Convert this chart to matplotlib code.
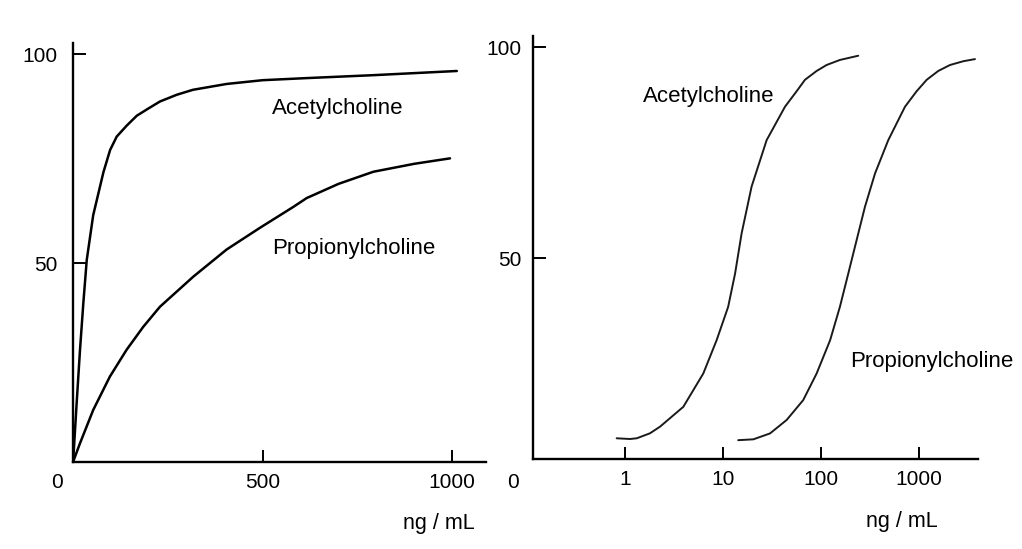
import matplotlib
matplotlib.use("Agg")
import matplotlib.pyplot as plt

plt.rcParams['font.family'] = ['Liberation Sans', 'DejaVu Sans']

# Left panel (linear concentration, ng/mL) - response values
lin_ach_x = [0, 9, 18, 27, 36, 53, 80, 97.6, 115, 141, 168, 198, 229, 273, 316, 405, 500, 616, 792, 1012]
lin_ach_y = [2.5, 16, 29, 40.5, 50.8, 61.5, 71.8, 77.1, 80.3, 82.9, 85.3, 87.0, 88.7, 90.3, 91.5, 92.9, 93.8, 94.3, 95.0, 96.0]
lin_pch_x = [0, 18, 53, 97, 141, 185, 229, 317, 405, 493, 581, 616, 700, 792, 900, 994]
lin_pch_y = [2.5, 6.9, 14.9, 22.9, 29.3, 34.8, 39.6, 46.8, 53.3, 58.5, 63.5, 65.6, 69.0, 71.9, 73.8, 75.1]

# Right panel (log concentration, ng/mL)
log_ach_x = [0.823, 1.125, 1.32, 1.80, 2.28, 3.94, 6.30, 8.62, 11.3, 13.3, 15.5, 19.6, 27.9, 42.9, 56.5, 68.7, 90.4, 114, 156, 240]
log_ach_y = [7.35, 7.18, 7.35, 8.53, 10.1, 14.8, 22.7, 30.6, 38.5, 46.4, 55.9, 67.0, 78.0, 85.9, 89.6, 92.3, 94.4, 95.8, 97.0, 98.0]
log_pch_x = [14.3, 20.4, 30.2, 44.7, 65.9, 90.3, 124, 156, 190, 231, 281, 356, 486, 719, 947, 1199, 1574, 2070, 2833, 3726]
log_pch_y = [6.9, 7.1, 8.5, 11.7, 16.4, 22.7, 30.6, 38.5, 46.4, 54.3, 62.2, 70.1, 78.0, 85.9, 89.6, 92.3, 94.4, 95.8, 96.7, 97.2]

yticks = [50, 100]
lin_xticks = [500, 1000]
log_xticks = [1, 10, 100, 1000]
log_xticklabels = ['1', '10', '100', '1000']

W, H = 1022, 549
fig = plt.figure(figsize=(W / 100, H / 100), dpi=100)

def px_axes(l, r, b, t):
    return fig.add_axes([l / W, 1 - b / H, (r - l) / W, (b - t) / H])

ax1 = px_axes(73.1, 486.4, 461.85, 43.4)
ax2 = px_axes(532.5, 978, 458.75, 35.9)

for ax in (ax1, ax2):
    for s in ('top', 'right'):
        ax.spines[s].set_visible(False)
    for s in ('left', 'bottom'):
        ax.spines[s].set_linewidth(1.7)
    ax.tick_params(direction='in', length=9, width=1.4, labelsize=15)
    ax.tick_params(axis='x', pad=8)
    ax.set_yticks(yticks)
    ax.set_yticklabels([str(v) for v in yticks])

ax1.tick_params(axis='y', pad=11)
ax2.tick_params(axis='y', pad=8)

line_kw = dict(solid_capstyle='round', solid_joinstyle='round')
ax1.plot(lin_ach_x, lin_ach_y, color='black', lw=1.8, **line_kw)
ax1.plot(lin_pch_x, lin_pch_y, color='black', lw=1.8, **line_kw)
ax1.set_xlim(0, 1090)
ax1.set_ylim(2.5, 102.6)
ax1.set_xticks(lin_xticks)
ax1.set_xticklabels([str(v) for v in lin_xticks])
ax1.text(524, 87.1, 'Acetylcholine', fontsize=16, va='center', ha='left')
ax1.text(524, 53.6, 'Propionylcholine', fontsize=16, va='center', ha='left')

ax2.plot(log_ach_x, log_ach_y, color='#1a1a1a', lw=1.4, **line_kw)
ax2.plot(log_pch_x, log_pch_y, color='#1a1a1a', lw=1.4, **line_kw)
ax2.set_xscale('log')
ax2.set_xlim(0.114, 4000)
ax2.set_ylim(2.5, 102.7)
ax2.set_xticks(log_xticks)
ax2.set_xticklabels(log_xticklabels)
ax2.minorticks_off()
ax2.text(1.54, 88.3, 'Acetylcholine', fontsize=16, va='center', ha='left')
ax2.text(198, 25.5, 'Propionylcholine', fontsize=16, va='center', ha='left')

fig.text(56.7 / W, 1 - 483 / H, '0', fontsize=15, ha='center', va='center')
fig.text(513 / W, 1 - 482 / H, '0', fontsize=15, ha='center', va='center')
fig.text(439 / W, 1 - 524 / H, 'ng / mL', fontsize=15.5, ha='center', va='center')
fig.text(902 / W, 1 - 522 / H, 'ng / mL', fontsize=15.5, ha='center', va='center')

fig.savefig('out.png', dpi=100)
